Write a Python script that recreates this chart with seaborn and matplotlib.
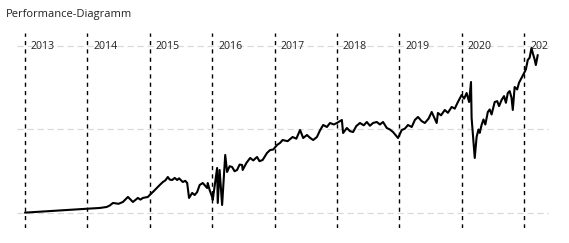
import matplotlib
matplotlib.use("Agg")
import matplotlib.pyplot as plt
import seaborn as sns
import pandas as pd

# Decimal years and performance values (%)
dates = [2013.00, 2013.50, 2014.00, 2014.20, 2014.31, 2014.36, 2014.41, 2014.50, 2014.57,
         2014.65, 2014.73, 2014.81, 2014.85, 2014.89, 2014.97, 2015.00, 2015.05, 2015.16,
         2015.21, 2015.25, 2015.29, 2015.32, 2015.36, 2015.40, 2015.44, 2015.47, 2015.53,
         2015.57, 2015.60, 2015.63, 2015.68, 2015.72, 2015.76, 2015.80, 2015.85, 2015.92,
         2015.93, 2015.96, 2016.00, 2016.01, 2016.08, 2016.09, 2016.12, 2016.16, 2016.21,
         2016.24, 2016.28, 2016.32, 2016.36, 2016.40, 2016.44, 2016.48, 2016.49, 2016.55,
         2016.61, 2016.66, 2016.72, 2016.76, 2016.81, 2016.88, 2016.93, 2016.98, 2017.04,
         2017.09, 2017.13, 2017.21, 2017.29, 2017.35, 2017.41, 2017.46, 2017.52, 2017.57,
         2017.62, 2017.68, 2017.73, 2017.78, 2017.84, 2017.89, 2017.95, 2018.00, 2018.08,
         2018.10, 2018.16, 2018.21, 2018.26, 2018.31, 2018.37, 2018.43, 2018.48, 2018.53,
         2018.58, 2018.64, 2018.69, 2018.74, 2018.80, 2018.85, 2018.90, 2018.98, 2019.04,
         2019.09, 2019.14, 2019.20, 2019.25, 2019.30, 2019.36, 2019.41, 2019.47, 2019.52,
         2019.60, 2019.62, 2019.67, 2019.73, 2019.78, 2019.84, 2019.89, 2019.94, 2020.00,
         2020.04, 2020.08, 2020.12, 2020.15, 2020.16, 2020.21, 2020.24, 2020.27, 2020.29,
         2020.32, 2020.35, 2020.38, 2020.42, 2020.45, 2020.48, 2020.53, 2020.57, 2020.60,
         2020.64, 2020.68, 2020.71, 2020.74, 2020.77, 2020.80, 2020.82, 2020.85, 2020.89,
         2020.92, 2020.96, 2021.01, 2021.03, 2021.06, 2021.09, 2021.12, 2021.14, 2021.17,
         2021.19, 2021.22]
values = [0.4, 2.8, 5.1, 6.0, 7.2, 9.0, 12.0, 11.0, 13.2,
          19.2, 13.2, 18.0, 16.0, 18.0, 19.2, 21.6, 25.1, 33.5,
          37.1, 39.0, 43.1, 40.0, 39.5, 42.0, 39.5, 41.5, 37.1,
          38.5, 35.9, 18.0, 24.0, 21.5, 25.1, 33.5, 35.9, 29.9,
          35.9, 27.5, 19.2, 15.6, 53.9, 12.0, 51.5, 9.6, 69.5,
          49.1, 56.0, 55.1, 50.0, 51.5, 58.0, 57.5, 51.5, 60.0,
          65.9, 63.0, 67.1, 62.0, 63.5, 71.9, 75.4, 76.0, 81.4,
          84.0, 87.4, 86.0, 91.0, 89.0, 99.4, 89.8, 93.4, 90.0,
          87.4, 91.0, 99.0, 105.4, 103.0, 107.8, 106.0, 107.8, 111.4,
          95.8, 101.8, 98.0, 97.0, 104.0, 107.8, 105.0, 109.0, 104.5,
          107.8, 109.0, 106.0, 109.0, 101.8, 100.0, 97.0, 89.8, 99.4,
          101.0, 105.4, 103.0, 111.4, 115.0, 110.0, 107.8, 113.0, 121.0,
          107.8, 119.8, 117.0, 123.4, 120.0, 127.0, 125.0, 132.9, 141.3,
          137.0, 143.7, 132.9, 156.9, 113.8, 65.9, 91.0, 100.0, 96.0,
          105.4, 112.0, 106.0, 121.0, 124.0, 118.0, 132.9, 134.0, 128.0,
          135.3, 140.0, 132.0, 143.7, 146.0, 138.0, 123.4, 150.9, 148.0,
          156.0, 161.7, 168.9, 172.0, 183.2, 186.0, 197.6, 191.6, 184.0,
          177.2, 189.2]
year_labels = ["2013", "2014", "2015", "2016", "2017", "2018", "2019", "2020", "2021"]
y_grid = [0, 100, 200]
title = "Performance-Diagramm"

sns.set_style("white")
plt.rcParams["font.family"] = ["Open Sans", "DejaVu Sans"]

W, H = 569, 243
fig = plt.figure(figsize=(W / 100, H / 100), dpi=100)
ax = fig.add_axes([17 / W, 1 - 228 / H, (549 - 17) / W, (228 - 33) / H])

df = pd.DataFrame({"date": dates, "value": values})
sns.lineplot(data=df, x="date", y="value", ax=ax, color="black", linewidth=1.5,
             estimator=None, sort=False)

x0 = 2013 - 8 / 62.4
x1 = 2021 + 25 / 62.4
ax.set_xlim(x0, x1)
ax.set_ylim(-18.0, 215.6)

for g in y_grid:
    ax.axhline(g, color="#dadada", linewidth=0.9, linestyle=(0, (5, 3)), zorder=0)

for lab in year_labels:
    yr = float(lab)
    ax.axvline(yr, color="black", linewidth=1.0, linestyle=(0, (3, 3)), zorder=1)
    ax.text(yr + 6 / 62.4, 200, lab, fontsize=7.6, color="#222222",
            ha="left", va="center", clip_on=True)

for s in ax.spines.values():
    s.set_visible(False)
ax.set_xticks([])
ax.set_yticks([])
ax.set_xlabel("")
ax.set_ylabel("")
ax.patch.set_alpha(0)

fig.text(6 / W, 1 - 14 / H, title, fontsize=8, color="#222222", ha="left", va="center")

fig.savefig("out.png", dpi=100, facecolor="white")
